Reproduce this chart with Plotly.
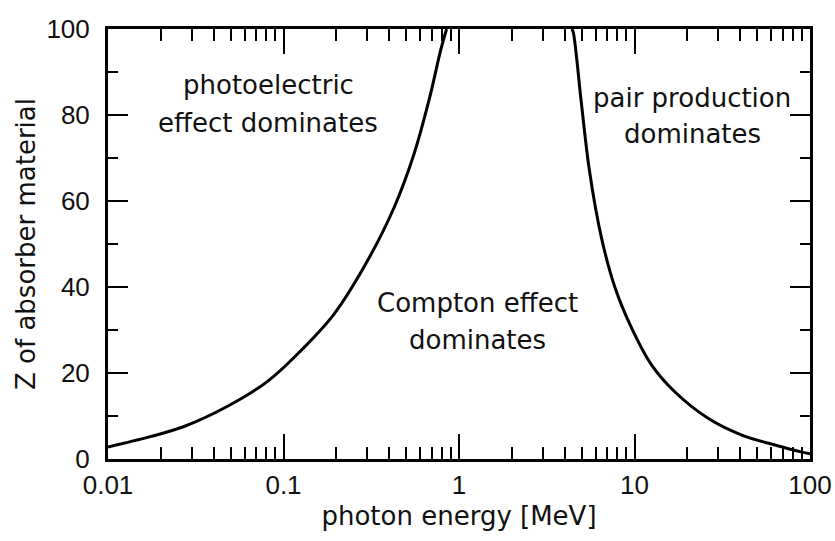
import plotly.graph_objects as go

# photoelectric / Compton boundary (energy in MeV, Z)
pe_energy = [0.01, 0.0174, 0.0269, 0.0477, 0.0808, 0.125, 0.194, 0.301, 0.428, 0.556, 0.676, 0.789, 0.85]
pe_z = [2.8, 5.2, 7.5, 12.2, 18.0, 25.1, 33.7, 46.1, 58.6, 71.1, 83.6, 95.3, 100]

# Compton / pair production boundary
pp_energy = [4.4, 4.48, 4.98, 5.53, 6.47, 7.74, 9.62, 12.5, 16.9, 26.4, 41.2, 63.9, 90, 100]
pp_z = [100, 99.2, 82.8, 67.2, 51.6, 39.9, 30.5, 21.9, 15.7, 9.4, 5.5, 3.2, 1.6, 1.2]

x_tickvals = [0.01, 0.1, 1, 10, 100]
x_ticktext = ["0.01", "0.1", "1", "10", "100"]

# region labels: (text lines, x paper, y paper of each line)
labels = [
    (["photoelectric", "effect dominates"], 0.228, [0.87, 0.782]),
    (["pair production", "dominates"], 0.832, [0.84, 0.756]),
    (["Compton effect", "dominates"], 0.527, [0.362, 0.276]),
]

TEXT_FONT = "DejaVu Sans"
TICK_FONT = "Liberation Sans, Arial"
INK = "#111111"

fig = go.Figure()
fig.add_trace(go.Scatter(x=pe_energy, y=pe_z, mode="lines", line=dict(color="black", width=3),
                         line_shape="spline", showlegend=False))
fig.add_trace(go.Scatter(x=pp_energy, y=pp_z, mode="lines", line=dict(color="black", width=3),
                         line_shape="spline", showlegend=False))

for lines, xp, yps in labels:
    for txt, yp in zip(lines, yps):
        fig.add_annotation(text=txt, x=xp, y=yp, xref="paper", yref="paper", showarrow=False,
                           xanchor="center", yanchor="middle",
                           font=dict(family=TEXT_FONT, size=26, color=INK))

fig.update_xaxes(type="log", range=[-2, 2], tickvals=x_tickvals, ticktext=x_ticktext,
                 showline=True, linewidth=3, linecolor="black", mirror="allticks",
                 ticks="inside", ticklen=25, tickwidth=2, tickcolor="black",
                 minor=dict(ticks="inside", ticklen=12, tickwidth=2, tickcolor="black", dtick="D1", showgrid=False),
                 showgrid=False, zeroline=False, ticklabelstandoff=1, automargin=False,
                 tickfont=dict(family=TICK_FONT, size=26, color=INK),
                 title=dict(text="photon energy [MeV]", font=dict(family=TEXT_FONT, size=26, color=INK), standoff=8))
fig.update_yaxes(range=[0, 100], dtick=20,
                 showline=True, linewidth=3, linecolor="black", mirror="allticks",
                 ticks="inside", ticklen=20, tickwidth=2, tickcolor="black",
                 minor=dict(ticks="inside", ticklen=10, tickwidth=2, tickcolor="black", dtick=10, showgrid=False),
                 showgrid=False, zeroline=False, ticklabelstandoff=10, automargin=False,
                 tickfont=dict(family=TICK_FONT, size=26, color=INK),
                 title=dict(text="Z of absorber material", font=dict(family=TEXT_FONT, size=26, color=INK), standoff=4))
fig.update_layout(width=835, height=541, margin=dict(l=108, r=25, t=29, b=82),
                  plot_bgcolor="white", paper_bgcolor="white")

# drop the page's default body margin so the figure sits at the window's corner
fig.write_html("out.html", config={"displayModeBar": False},
               post_script="document.body.style.margin='0';")
